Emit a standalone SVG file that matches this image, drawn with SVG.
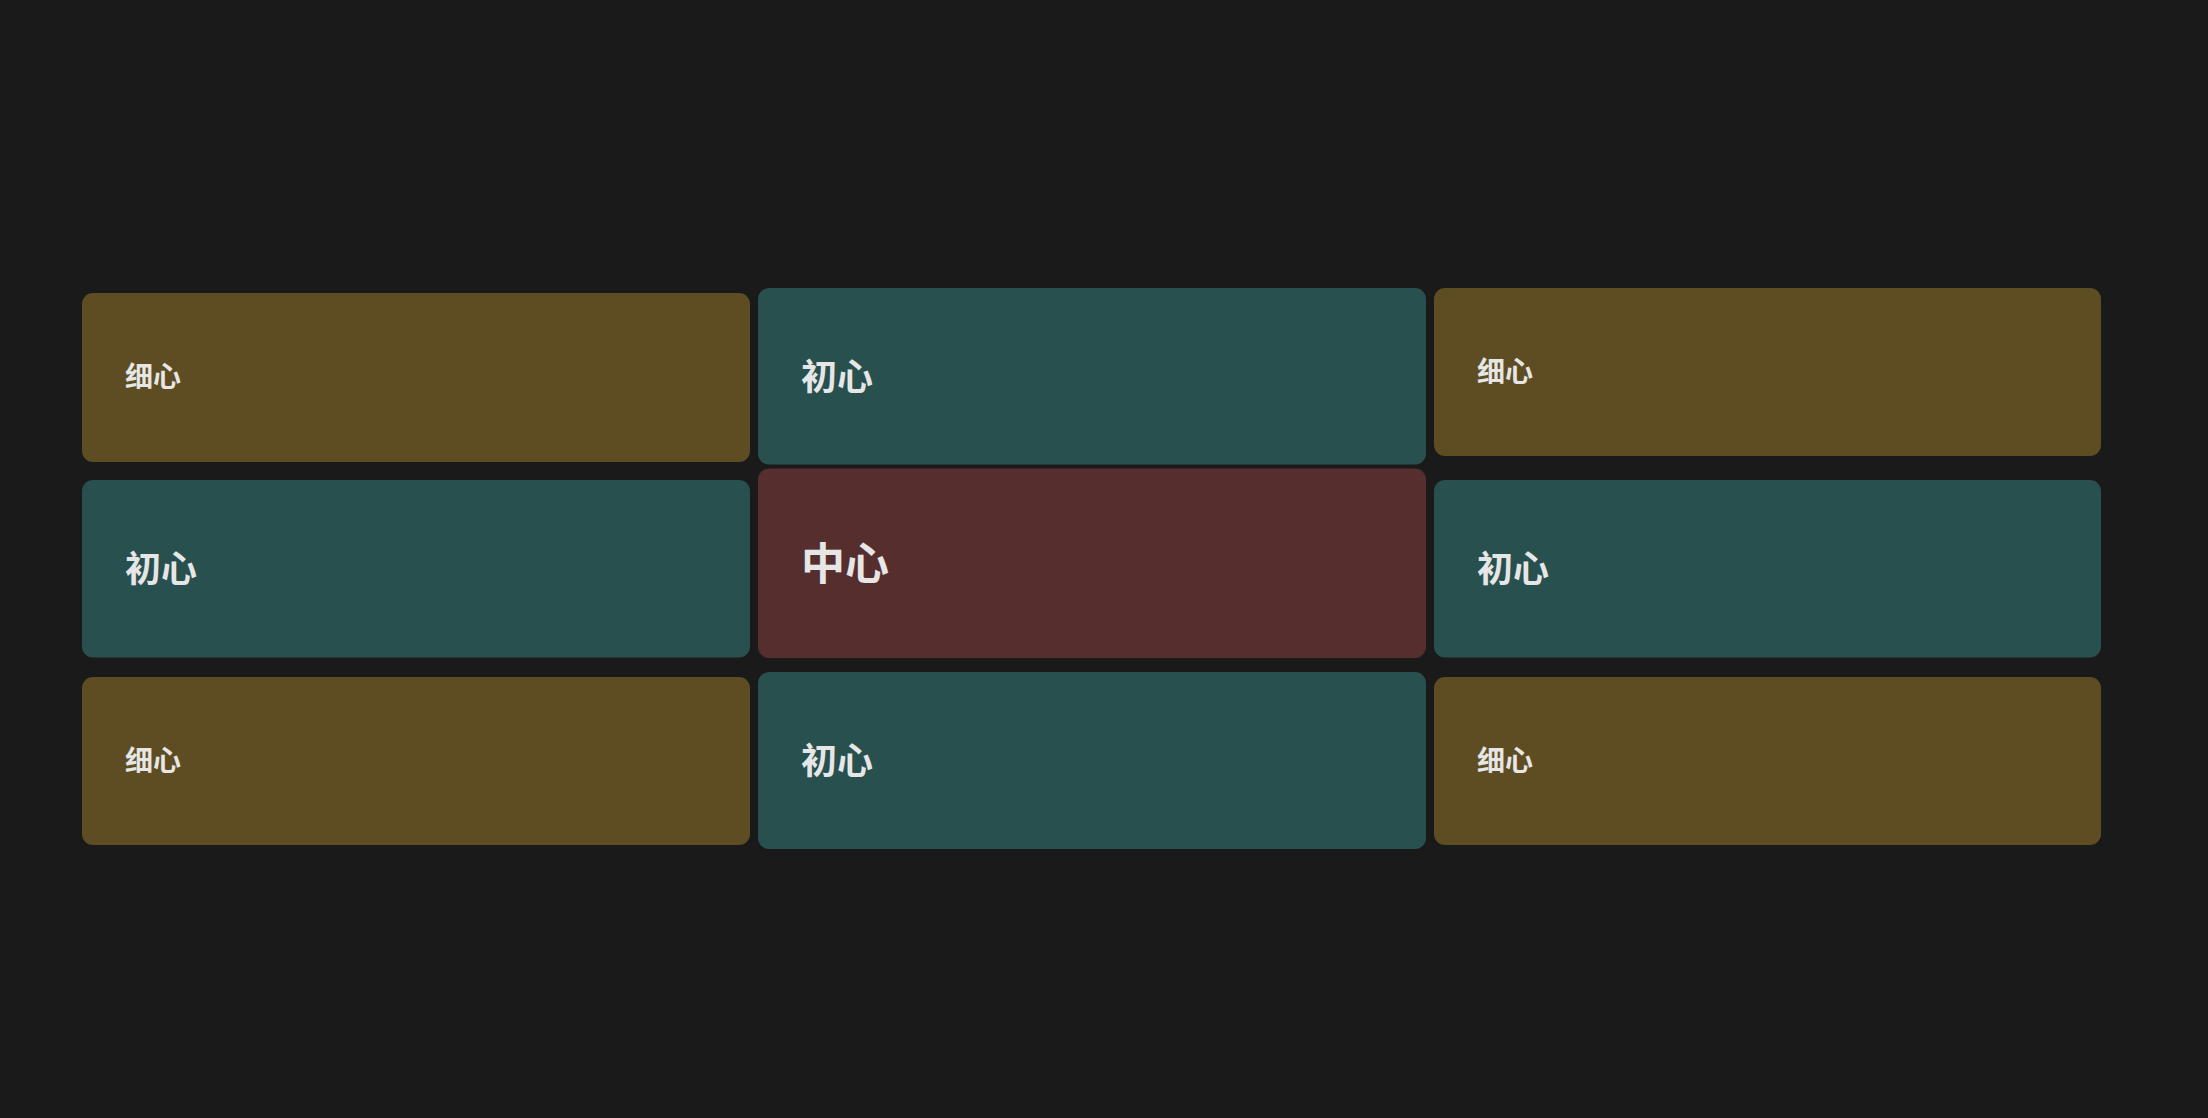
<svg xmlns="http://www.w3.org/2000/svg" width="2208" height="1118" viewBox="0 0 2208 1118">
<style>
.y{fill:#5e4d22}
.t{fill:#28504e}
.r{fill:#562e2e}
text{font-family:"Noto Sans CJK SC","Noto Sans CJK JP",sans-serif;font-weight:bold;fill:#e6e6e6;dominant-baseline:central}
.s{font-size:28px}
.m{font-size:36px}
.l{font-size:44px}
</style>
<rect width="2208" height="1118" fill="#1a1a1a"/>
<g id="connectors"/>
<g id="n1"><rect class="y" x="82" y="293" width="668" height="169" rx="11"/><text class="s" x="125" y="375">细心</text></g>
<g id="n2"><rect class="t" x="758" y="288" width="668" height="176.5" rx="11"/><text class="m" x="801" y="374">初心</text></g>
<g id="n3"><rect class="y" x="1434" y="288" width="667" height="168" rx="11"/><text class="s" x="1477" y="369.5">细心</text></g>
<g id="n4"><rect class="t" x="82" y="480" width="668" height="177.5" rx="11"/><text class="m" x="125" y="566">初心</text></g>
<g id="center"><rect class="r" x="758" y="468.5" width="668" height="189.5" rx="11"/><text class="l" x="801" y="560.5">中心</text></g>
<g id="n6"><rect class="t" x="1434" y="480" width="667" height="177.5" rx="11"/><text class="m" x="1477" y="566">初心</text></g>
<g id="n7"><rect class="y" x="82" y="677" width="668" height="168" rx="11"/><text class="s" x="125" y="758.5">细心</text></g>
<g id="n8"><rect class="t" x="758" y="672" width="668" height="177" rx="11"/><text class="m" x="801" y="758">初心</text></g>
<g id="n9"><rect class="y" x="1434" y="677" width="667" height="168" rx="11"/><text class="s" x="1477" y="758.5">细心</text></g>
</svg>
